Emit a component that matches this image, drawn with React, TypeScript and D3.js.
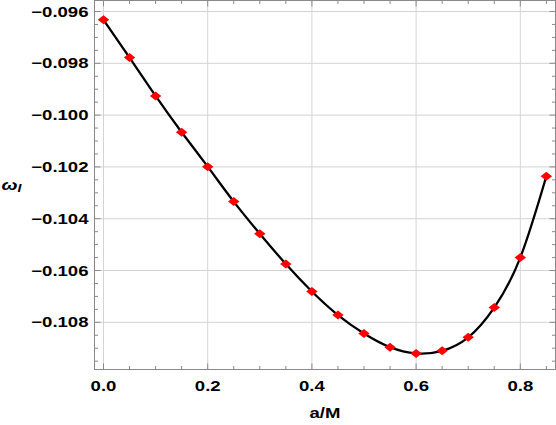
import React from "react";
import * as d3 from "d3";

const spins = [0, 0.05, 0.1, 0.15, 0.2, 0.25, 0.3, 0.35, 0.4, 0.45, 0.5, 0.55, 0.6, 0.65, 0.7, 0.75, 0.8, 0.85];
const omegaI = [-0.09632, -0.09778, -0.09926, -0.10066, -0.10199, -0.10334, -0.10458, -0.10575, -0.10681, -0.10772, -0.10843, -0.10896, -0.1092, -0.1091, -0.10858, -0.10743, -0.1055, -0.10236];
const xMajor = [0, 0.2, 0.4, 0.6, 0.8];
const xMajorLabels = ["0.0", "0.2", "0.4", "0.6", "0.8"];
const yMajor = [-0.096, -0.098, -0.1, -0.102, -0.104, -0.106, -0.108];
const yMajorLabels = ["\u22120.096", "\u22120.098", "\u22120.100", "\u22120.102", "\u22120.104", "\u22120.106", "\u22120.108"];
const xLabel = "a/M";

const W = 556, H = 425;
const L = 94.5, R = 555.5, T = 0.5, B = 369.5;
const SX = 1.28;

export default function App() {
  const x = d3.scaleLinear().domain([-0.01727, 0.8666]).range([L, R - 0.5]);
  const y = d3.scaleLinear().domain([-0.095575, -0.109822]).range([T, B]);
  const xMinor = d3.range(0, 0.87, 0.05).map((v) => +v.toFixed(2)).filter((v) => !xMajor.some((m) => Math.abs(m - v) < 1e-9));
  const yMinor = d3.range(-0.0955, -0.1099, -0.0005).map((v) => +v.toFixed(4)).filter((v) => !yMajor.some((m) => Math.abs(m - v) < 1e-9));
  const pts = spins.map((s, i) => [x(s), y(omegaI[i])] as [number, number]);
  const line = d3.line().curve(d3.curveNatural)(pts) || "";
  const diamond = (cx: number, cy: number) => `M${cx},${cy - 4.5}L${cx + 5.7},${cy}L${cx},${cy + 4.5}L${cx - 5.7},${cy}Z`;
  const font = "'Liberation Sans', Arial, sans-serif";
  const frame = "#8a8a8a";
  const grid = "#d4d4d4";
  return (
    <svg width={W} height={H} style={{ position: "absolute", left: 0, top: 0, background: "#fff" }}>
      {xMajor.map((v, i) => (
        <line key={"gx" + i} x1={x(v)} x2={x(v)} y1={T} y2={B} stroke={grid} strokeWidth={1} />
      ))}
      {yMajor.map((v, i) => (
        <line key={"gy" + i} x1={L} x2={R} y1={y(v)} y2={y(v)} stroke={grid} strokeWidth={1} />
      ))}
      <rect x={L} y={T} width={R - L} height={B - T} fill="none" stroke={frame} strokeWidth={1} />
      {xMajor.map((v, i) => (
        <g key={"tx" + i}>
          <line x1={x(v)} x2={x(v)} y1={B} y2={B - 6} stroke={frame} />
          <line x1={x(v)} x2={x(v)} y1={T} y2={T + 6} stroke={frame} />
        </g>
      ))}
      {xMinor.map((v, i) => (
        <g key={"tmx" + i}>
          <line x1={x(v)} x2={x(v)} y1={B} y2={B - 3.5} stroke={frame} />
          <line x1={x(v)} x2={x(v)} y1={T} y2={T + 3.5} stroke={frame} />
        </g>
      ))}
      {yMajor.map((v, i) => (
        <g key={"ty" + i}>
          <line x1={L} x2={L + 6} y1={y(v)} y2={y(v)} stroke={frame} />
          <line x1={R} x2={R - 6} y1={y(v)} y2={y(v)} stroke={frame} />
        </g>
      ))}
      {yMinor.map((v, i) => (
        <g key={"tmy" + i}>
          <line x1={L} x2={L + 3.5} y1={y(v)} y2={y(v)} stroke={frame} />
          <line x1={R} x2={R - 3.5} y1={y(v)} y2={y(v)} stroke={frame} />
        </g>
      ))}
      <path d={line} fill="none" stroke="#000" strokeWidth={2.3} />
      {pts.map((p, i) => (
        <path key={"m" + i} d={diamond(p[0], p[1])} fill="#ff0000" />
      ))}
      {xMajor.map((v, i) => (
        <text key={"lx" + i} transform={`translate(${x(v)},${391}) scale(${SX},1)`} textAnchor="middle"
          fontFamily={font} fontWeight="bold" fontSize={14.5} fill="#000">{xMajorLabels[i]}</text>
      ))}
      {yMajor.map((v, i) => (
        <text key={"ly" + i} transform={`translate(${88.5},${y(v) + 5}) scale(${SX},1)`} textAnchor="end"
          fontFamily={font} fontWeight="bold" fontSize={14.5} fill="#000">{yMajorLabels[i]}</text>
      ))}
      <text transform={`translate(${(L + R) / 2},${418}) scale(${SX},1)`} textAnchor="middle"
        fontFamily={font} fontWeight="bold" fontSize={14.5} fill="#000">{xLabel}</text>
      <text transform={`translate(1.5,190) scale(${SX},1)`} fontFamily={font} fontWeight="bold" fontStyle="italic" fontSize={15} fill="#000">
        ω<tspan fontSize={11} dy={2}>I</tspan>
      </text>
    </svg>
  );
}
